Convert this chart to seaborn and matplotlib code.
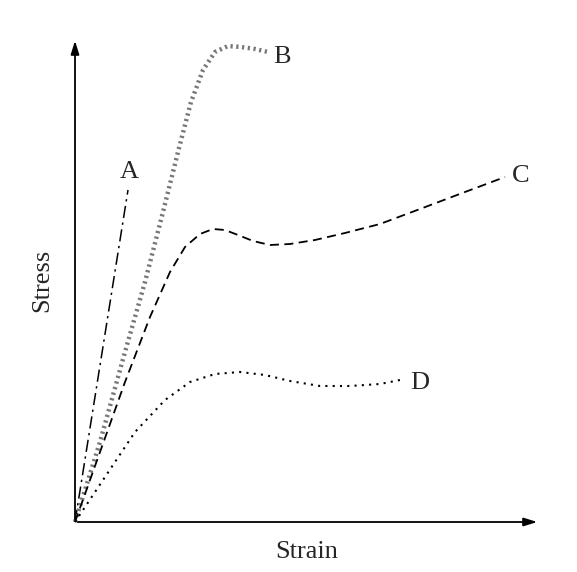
import matplotlib
matplotlib.use("Agg")
import matplotlib.pyplot as plt
import seaborn as sns
import pandas as pd

sns.set_style("white")
plt.rcParams['font.family'] = ['Liberation Serif', 'DejaVu Serif']

# strain / stress values (arbitrary units)
a_strain = [0, 53]
a_stress = [0, 332]
b_strain = [0, 25, 50, 70, 88, 103, 116, 128, 140, 153, 166, 180, 193]
b_stress = [0, 80, 170, 240, 310, 370, 420, 452, 470, 476, 475, 473, 470]
c_strain = [0, 25, 50, 75, 95, 110, 125, 138, 150, 163, 178, 195, 215, 240, 270, 305, 345, 390, 430]
c_stress = [0, 70, 140, 205, 250, 275, 288, 293, 292, 287, 281, 277, 278, 282, 289, 298, 313, 330, 345]
d_strain = [0, 30, 60, 90, 115, 140, 165, 190, 215, 245, 275, 305, 325]
d_stress = [0, 45, 90, 122, 140, 148, 150, 147, 141, 136, 136, 138, 142]
labels = ["A", "B", "C", "D"]

fig = plt.figure(figsize=(5.77, 5.72), dpi=100)
ax = fig.add_axes([0, 0, 1, 1])
ax.set_xlim(-75, 502)
ax.set_ylim(-50, 522)
ax.axis("off")

def draw(x, y, **kw):
    sns.lineplot(data=pd.DataFrame({"x": x, "y": y}), x="x", y="y", sort=False,
                 estimator=None, ax=ax, legend=False, **kw)

draw(a_strain, a_stress, color="black", lw=1.1, linestyle=(0, (8, 3, 1.5, 3)))
draw(b_strain, b_stress, color="#777777", lw=3.2, linestyle=(0, (0.5, 0.8)))
draw(c_strain, c_stress, color="black", lw=1.3, linestyle=(0, (5, 3)))
draw(d_strain, d_stress, color="black", lw=1.5, linestyle=(0, (1, 2.5)))

fs = 19
ax.text(54, 350, labels[0], fontsize=fs, ha="center", va="center")
ax.text(207, 465, labels[1], fontsize=fs, ha="center", va="center")
ax.text(446, 346, labels[2], fontsize=fs, ha="center", va="center")
ax.text(345, 139, labels[3], fontsize=fs, ha="center", va="center")

arrow = dict(arrowstyle="-|>,head_length=0.8,head_width=0.25", color="black", lw=1.3)
ax.annotate("", xy=(465, 0), xytext=(0, 0), arrowprops=arrow)
ax.annotate("", xy=(0, 484), xytext=(0, 0), arrowprops=arrow)

ax.text(232, -30, "Strain", fontsize=19, ha="center", va="center")
ax.text(-33, 242, "Stress", fontsize=19, ha="center", va="center", rotation=90)

fig.savefig("out.png", dpi=100)
